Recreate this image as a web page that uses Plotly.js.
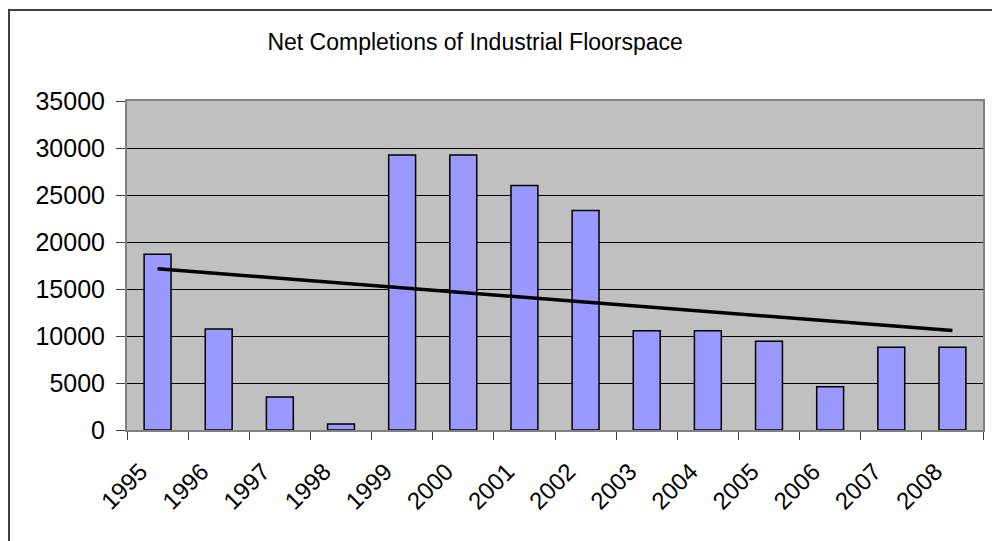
<!DOCTYPE html>
<html>
<head>
<meta charset="utf-8">
<script src="https://cdn.plot.ly/plotly-3.0.1.min.js"></script>
<style>
  html, body { margin: 0; padding: 0; background: #ffffff; }
  #wrap { position: relative; width: 992px; height: 541px; overflow: hidden; }
  #chart { position: absolute; left: 0; top: 0; width: 992px; height: 541px; }
  #frame { position: absolute; left: 8px; top: 9px; width: 1100px; height: 700px;
           border-top: 2px solid #404040; border-left: 2px solid #404040; pointer-events: none; }
</style>
</head>
<body>
<div id="wrap">
  <div id="chart"></div>
  <div id="frame"></div>
</div>
<script>
// Data
const years = ['1995','1996','1997','1998','1999','2000','2001','2002','2003','2004','2005','2006','2007','2008'];
const completions = [18700, 10750, 3500, 650, 29250, 29250, 26000, 23350, 10550, 10550, 9450, 4600, 8800, 8800];
// Linear trendline end points
const trendYears = ['1995', '2008'];
const trendValues = [17150, 10580];
const yTicks = [0, 5000, 10000, 15000, 20000, 25000, 30000, 35000];

const bars = {
  type: 'bar',
  x: years,
  y: completions,
  marker: { color: '#9999FF', line: { color: '#000000', width: 1.5 } },
  hoverinfo: 'skip'
};
const trend = {
  type: 'scatter',
  mode: 'lines',
  x: trendYears,
  y: trendValues,
  line: { color: '#000000', width: 3.5 },
  hoverinfo: 'skip'
};

const layout = {
  width: 992,
  height: 541,
  margin: { l: 127, r: 9, t: 101, b: 111, pad: 0 },
  paper_bgcolor: 'rgba(0,0,0,0)',
  plot_bgcolor: '#C0C0C0',
  showlegend: false,
  bargap: 0.56,
  font: { family: 'Liberation Sans, Arial, sans-serif', color: '#000000' },
  title: {
    text: 'Net Completions of Industrial Floorspace',
    font: { size: 23, family: 'Liberation Sans, Arial, sans-serif', color: '#000000' },
    xref: 'container', yref: 'container',
    x: 0.479, xanchor: 'center',
    y: 1 - 42 / 541, yanchor: 'middle'
  },
  xaxis: {
    type: 'category',
    tickson: 'boundaries',
    ticks: 'outside',
    ticklen: 8,
    tickwidth: 1,
    tickcolor: '#404040',
    tickangle: -45,
    ticklabelstandoff: 16,
    ticklabelshift: -17,
    tickfont: { size: 24 },
    showline: true,
    linecolor: '#808080',
    linewidth: 2,
    mirror: true,
    showgrid: false,
    fixedrange: true
  },
  yaxis: {
    range: [0, 35000],
    tickvals: yTicks,
    ticktext: yTicks.map(String),
    ticks: 'outside',
    ticklen: 9,
    tickwidth: 1,
    tickcolor: '#404040',
    ticklabelstandoff: 6,
    tickfont: { size: 25 },
    showline: true,
    linecolor: '#808080',
    linewidth: 2,
    mirror: true,
    showgrid: true,
    gridcolor: '#000000',
    gridwidth: 1,
    zeroline: false,
    fixedrange: true
  }
};

Plotly.newPlot('chart', [bars, trend], layout, { staticPlot: true, displayModeBar: false });
</script>
</body>
</html>
